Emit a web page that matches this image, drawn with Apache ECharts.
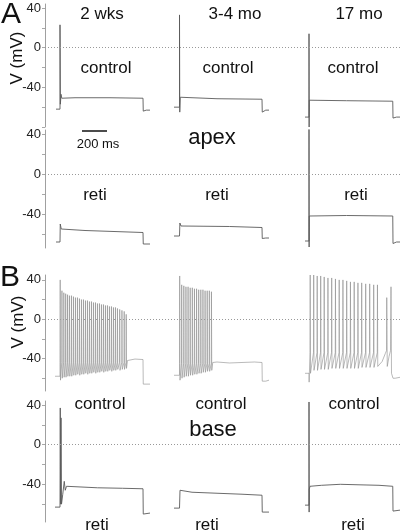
<!DOCTYPE html>
<html><head><meta charset="utf-8">
<script src="https://cdn.jsdelivr.net/npm/echarts@6/dist/echarts.min.js"></script>
<style>html,body{margin:0;padding:0;background:#fff}#c{width:400px;height:532px}</style>
</head><body><div id="c"></div>
<script>
// ===== DATA (time in ms from current-step onset, voltage in mV) =====
const ageLabels = ['2 wks', '3-4 mo', '17 mo'];
const rowConditions = ['control', 'reti', 'control', 'reti'];
const regionLabels = ['apex', 'base'];
const panelLetters = ['A', 'B'];
const yLabelValues = [40, 0, -40];
const scaleBarMs = 200;

// A, control
const aCtrl2wk  = [[-32,-62],[0,-62],[0,23],[3,-57],[8,-47],[14,-51],[120,-50.5],[400,-50.5],[664,-51],[666,-64],[674,-65],[690,-63],[720,-63]];
const aCtrl34mo = [[-44,-60],[0,-60],[0,33],[2,-65],[6,-50],[12,-52],[300,-51.5],[660,-52],[662,-65],[670,-66],[690,-63],[716,-63]];
const aCtrl17mo = [[-32,-70],[0,-70],[0,14],[1,-80],[2,-53],[12,-53.5],[300,-53.5],[670,-54],[672,-71],[682,-72],[700,-70],[730,-70]];
// A, reti
const aReti2wk  = [[-32,-68],[0,-68],[2,-50],[10,-55],[200,-56.5],[664,-58.5],[666,-70],[676,-71],[720,-70]];
const aReti34mo = [[-44,-62],[0,-62],[3,-49],[12,-52],[400,-52.5],[660,-53.5],[662,-64.5],[690,-64],[716,-64]];
const aReti17mo = [[-32,-67],[0,-67],[0,45],[1,-73],[2,-42],[300,-41.5],[670,-42],[672,-69.5],[700,-68],[730,-68]];

// B, control (spike trains): spike times, peaks, AHP troughs, plus pre/post key points
const bCtrl2wkPre    = [[-40,-58],[0,-58]];
const bCtrl2wkTimes  = [0,14,29,44,59,74,90,106,122,138,154,170,186,202,218,234,250,266,282,298,314,330,346,362,378,394,410,426,442,458,476,494,512,528];
const bCtrl2wkPeaks  = [40,29,27,26,25,24,24,23,22,22,21,20,20,19,19,18,18,17,17,16,16,15,15,14,14,13,13,12,12,11,10,9,8,5];
const bCtrl2wkTrough = [-62,-60,-59,-59,-58,-58,-58,-57,-57,-56,-57,-56,-56,-55,-56,-55,-55,-54,-55,-54,-54,-53,-54,-53,-53,-52,-53,-52,-52,-51,-52,-51,-51,-50];
const bCtrl2wkThresh = -44;
const bCtrl2wkPost   = [[540,-42],[552,-40],[600,-40.5],[664,-41],[666,-66],[676,-67],[720,-66]];

const bCtrl34moPre    = [[-44,-57],[0,-57]];
const bCtrl34moTimes  = [0,16,33,50,67,84,101,118,135,152,169,186,203,220,237,254];
const bCtrl34moPeaks  = [44,35,34,33,33,32,32,31,31,30,30,30,29,29,29,28];
const bCtrl34moTrough = [-62,-60,-59,-58,-58,-57,-57,-56,-56,-55,-55,-54,-54,-53,-53,-52];
const bCtrl34moThresh = -45;
const bCtrl34moPost   = [[266,-44],[300,-43.5],[400,-44.5],[500,-44],[600,-43.5],[660,-44],[662,-63],[672,-64.5],[690,-63],[716,-62]];

const bCtrl17moPre    = [[-32,-55],[0,-55],[1,-64]];
const bCtrl17moTimes  = [8,36,64,92,120,150,180,210,240,270,300,330,360,390,420,452,484,516,546];
const bCtrl17moPeaks  = [45,45,44,44,43,42,42,41,40,40,39,38,38,37,37,36,36,35,35];
const bCtrl17moTrough = [-55,-52,-52,-51,-51,-51,-50,-50,-50,-50,-50,-50,-50,-50,-49,-49,-49,-49,-48];
const bCtrl17moThresh = -34;
const bCtrl17moPost   = [[560,-47],[585,-43],[610,-35],[620,-32],[622,22],[626,-48],[640,-38],[652,-32],[656,33],[660,-55],[672,-60],[690,-60],[730,-59]];

// B, reti
const bReti2wk  = [[-40,-63],[0,-63],[2,37],[5,-60],[8,27],[12,-60],[22,-50],[34,-37],[42,-46],[52,-42],[64,-43.5],[300,-43.5],[500,-44],[664,-44.5],[666,-70],[676,-71],[720,-69]];
const bReti34mo = [[-44,-64],[0,-64],[4,-46],[12,-47],[100,-48],[300,-49],[500,-50],[660,-51],[662,-68],[672,-69],[716,-68]];
const bReti17mo = [[-32,-61],[0,-61],[0,43],[1,-68],[2,-45],[8,-42],[100,-41],[250,-40],[400,-40.5],[560,-41],[670,-42],[672,-67],[684,-68],[730,-66]];

// ===== BUILD =====
function spikeTrain(pre, times, peaks, troughs, thr, post) {
  const out = pre.slice();
  times.forEach((t, i) => {
    out.push([t, thr], [t + 1.5, peaks[i]], [t + 4, troughs[i]]);
  });
  return out.concat(post);
}
const rowsData = [
  [aCtrl2wk, aCtrl34mo, aCtrl17mo],
  [aReti2wk, aReti34mo, aReti17mo],
  [spikeTrain(bCtrl2wkPre, bCtrl2wkTimes, bCtrl2wkPeaks, bCtrl2wkTrough, bCtrl2wkThresh, bCtrl2wkPost),
   spikeTrain(bCtrl34moPre, bCtrl34moTimes, bCtrl34moPeaks, bCtrl34moTrough, bCtrl34moThresh, bCtrl34moPost),
   spikeTrain(bCtrl17moPre, bCtrl17moTimes, bCtrl17moPeaks, bCtrl17moTrough, bCtrl17moThresh, bCtrl17moPost)],
  [bReti2wk, bReti34mo, bReti17mo]
];

// layout
const colOnset = [120, 1076, 2112];          // ms offset of each column within a row
const rowLayout = [
  {top: 4,   height: 123, min: -80, max: 44, ticks: [40,20,0,-20,-40,-60,-80]},
  {top: 130, height: 118, min: -74, max: 44, ticks: [40,20,0,-20,-40,-60]},
  {top: 275, height: 116, min: -73, max: 45, ticks: [40,20,0,-20,-40,-60]},
  {top: 401, height: 121, min: -78, max: 44, ticks: [40,20,0,-20,-40,-60]}
];
const FONT = '"Liberation Sans", Arial, Helvetica, sans-serif';

const grid = [], xAxis = [], yAxis = [], series = [];
rowLayout.forEach((r, i) => {
  grid.push({left: 45, width: 355, top: r.top, height: r.height});
  xAxis.push({gridIndex: i, type: 'value', min: 0, max: 2840, show: false});
  yAxis.push({
    gridIndex: i, type: 'value', min: r.min, max: r.max,
    axisLine: {show: true, lineStyle: {color: '#a0a0a0', width: 1}},
    axisTick: {show: true, length: 3, customValues: r.ticks, lineStyle: {color: '#a8a8a8'}},
    axisLabel: {customValues: yLabelValues, margin: 4, fontSize: 13, color: '#222', fontFamily: FONT},
    splitLine: {show: false}
  });
  rowsData[i].forEach((trace, c) => {
    const s = {
      type: 'line', xAxisIndex: i, yAxisIndex: i, silent: true, showSymbol: false, symbol: 'none',
      data: trace.map(p => [p[0] + colOnset[c], p[1]]),
      lineStyle: {color: i === 2 ? '#8c8c8c' : '#5a5a5a', width: i === 2 ? 0.6 : 0.9},
      animation: false
    };
    if (c === 0) {
      s.markLine = {
        silent: true, symbol: 'none', label: {show: false},
        lineStyle: {type: [1, 2], color: '#999', width: 1},
        data: [{yAxis: 0}], animation: false
      };
    }
    series.push(s);
  });
});
// 200 ms scale bar (in row 2's coordinates)
series.push({
  type: 'line', xAxisIndex: 1, yAxisIndex: 1, silent: true, showSymbol: false, animation: false,
  data: [[296, 43], [296 + scaleBarMs, 43]], lineStyle: {color: '#111', width: 1.3}
});

function txt(t, x, y, size, rot) {
  return {type: 'text', x: x, y: y, rotation: rot || 0,
    style: {text: t, fill: '#111', font: size + 'px ' + FONT, align: 'center', verticalAlign: 'middle'}};
}
const graphic = [
  txt(panelLetters[0], 11, 15, 30), txt(panelLetters[1], 10, 278, 30),
  txt('V (mV)', 17.5, 58, 17, Math.PI / 2), txt('V (mV)', 18, 322, 17, Math.PI / 2),
  txt(ageLabels[0], 102, 14, 17), txt(ageLabels[1], 235, 14, 17), txt(ageLabels[2], 359, 14, 17),
  txt(rowConditions[0], 106, 68, 17), txt(rowConditions[0], 228, 68, 17), txt(rowConditions[0], 353, 68, 17),
  txt(rowConditions[1], 95, 195, 17), txt(rowConditions[1], 217, 195, 17), txt(rowConditions[1], 356, 195, 17),
  txt(rowConditions[2], 100, 404, 17), txt(rowConditions[2], 221, 404, 17), txt(rowConditions[2], 354, 404, 17),
  txt(rowConditions[3], 97, 525, 17), txt(rowConditions[3], 207, 525, 17), txt(rowConditions[3], 353, 525, 17),
  txt(regionLabels[0], 212, 138, 22), txt(regionLabels[1], 213, 430, 22),
  txt(scaleBarMs + ' ms', 98, 144, 13)
];

const chart = echarts.init(document.getElementById('c'), null, {renderer: 'canvas'});
chart.setOption({animation: false, backgroundColor: '#fff', grid, xAxis, yAxis, series, graphic});
</script></body></html>
